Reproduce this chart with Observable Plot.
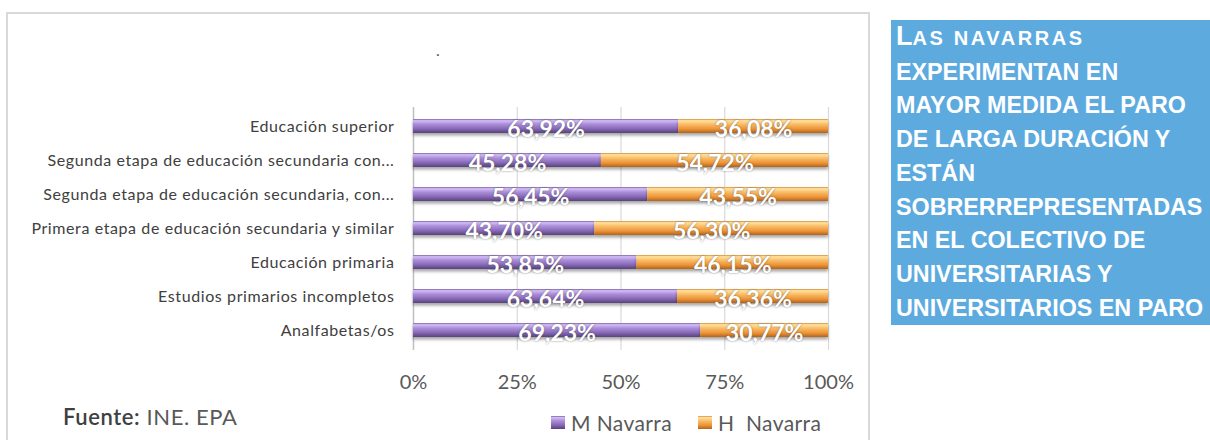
<!DOCTYPE html>
<html>
<head>
<meta charset="utf-8">
<script src="https://cdn.jsdelivr.net/npm/d3@7"></script>
<script src="https://cdn.jsdelivr.net/npm/@observablehq/plot@0.6"></script>
<style>
  html, body { margin: 0; padding: 0; }
  body { width: 1210px; height: 440px; overflow: hidden; position: relative; background: #fff; font-family: Lato, "Open Sans", sans-serif; }
  #frame { position: absolute; left: 6px; top: 12px; width: 860px; height: 440px; border: 2px solid #D9D9D9; border-bottom: none; }
  #chart { position: absolute; left: 0; top: 0; }
  #dot { position: absolute; left: 436px; top: 40px; font-size: 16px; color: #595959; }
  #fuente { position: absolute; left: 63px; top: 403px; font-size: 22px; letter-spacing: 0.6px; color: #595959; white-space: nowrap; }
  #fuente b { color: #404040; font-weight: 600; }
  #legend { position: absolute; left: 551px; top: 410px; font-size: 21px; letter-spacing: 0.4px; color: #595959; white-space: nowrap; display: flex; align-items: center; }
  .sw { display: inline-block; width: 14px; height: 13px; margin-right: 6px; }
  #blue { position: absolute; left: 891px; top: 20px; width: 319px; height: 305px; background: #5DAADF; color: #fff; font-family: "Liberation Sans", Arial, sans-serif; font-weight: bold; font-size: 23.3px; line-height: 33.7px; white-space: nowrap; padding-left: 5px; box-sizing: border-box; }
  #blue .big { font-size: 27px; }
  #blue .sm { font-size: 20px; letter-spacing: 2.6px; }
</style>
</head>
<body>
<svg width="0" height="0" style="position:absolute">
  <defs>
    <linearGradient id="gM" x1="0" y1="0" x2="0" y2="1">
      <stop offset="0" stop-color="#7A62A4"/>
      <stop offset="0.12" stop-color="#D4BEF6"/>
      <stop offset="0.35" stop-color="#AD90DC"/>
      <stop offset="0.7" stop-color="#8668B6"/>
      <stop offset="1" stop-color="#574278"/>
    </linearGradient>
    <linearGradient id="gH" x1="0" y1="0" x2="0" y2="1">
      <stop offset="0" stop-color="#D98A36"/>
      <stop offset="0.12" stop-color="#FFE3A0"/>
      <stop offset="0.38" stop-color="#F9BC66"/>
      <stop offset="0.72" stop-color="#EC9236"/>
      <stop offset="1" stop-color="#B0641E"/>
    </linearGradient>
    <filter id="sh" x="-5%" y="-50%" width="110%" height="250%">
      <feDropShadow dx="0" dy="2.5" stdDeviation="1.6" flood-color="#000" flood-opacity="0.35"/>
    </filter>
  </defs>
</svg>
<div id="frame"></div>
<div id="chart"></div>
<div id="dot">.</div>
<div id="fuente"><b>Fuente:</b> INE. EPA</div>
<div id="legend"></div>
<div id="blue">
  <span class="big">L</span><span class="sm">AS NAVARRAS</span><br>
  EXPERIMENTAN EN<br>
  MAYOR MEDIDA EL PARO<br>
  DE LARGA DURACIÓN Y<br>
  ESTÁN<br>
  SOBRERREPRESENTADAS<br>
  EN EL COLECTIVO DE<br>
  UNIVERSITARIAS Y<br>
  UNIVERSITARIOS EN PARO
</div>
<script>
// ---- data ----
const categories = [
  "Educación superior",
  "Segunda etapa de educación secundaria con...",
  "Segunda etapa de educación secundaria, con...",
  "Primera etapa de educación secundaria y similar",
  "Educación primaria",
  "Estudios primarios incompletos",
  "Analfabetas/os"
];
const seriesNames = ["M Navarra", "H  Navarra"];
const mujeres = [63.92, 45.28, 56.45, 43.70, 53.85, 63.64, 69.23];
const hombres = [36.08, 54.72, 43.55, 56.30, 46.15, 36.36, 30.77];
const xTicks = [0, 25, 50, 75, 100];

const rows = [];
categories.forEach((c, i) => {
  rows.push({cat: c, serie: seriesNames[0], v: mujeres[i]});
  rows.push({cat: c, serie: seriesNames[1], v: hombres[i]});
});
const fmt = v => v.toFixed(2).replace(".", ",") + "%";

const chart = Plot.plot({
  width: 870,
  height: 440,
  marginLeft: 413,
  marginRight: 42,
  marginTop: 107,
  marginBottom: 90,
  style: {fontFamily: "Lato, 'Open Sans', sans-serif", background: "transparent"},
  x: {domain: [0, 100]},
  y: {domain: categories, paddingInner: 0.58, paddingOuter: 0.29},
  color: {domain: seriesNames, range: ["url(#gM)", "url(#gH)"]},
  marks: [
    Plot.ruleX(xTicks.slice(1), {stroke: "#D9D9D9", strokeWidth: 1.2}),
    Plot.ruleX([0], {stroke: "#BFBFBF", strokeWidth: 1.5}),
    Plot.barX(rows, {y: "cat", x: "v", fill: "serie"}),
    Plot.text(rows, Plot.stackX({y: "cat", x: "v", text: d => fmt(d.v), fill: "white", fontSize: 23, fontWeight: "bold", dy: 3})),
    Plot.axisX({ticks: xTicks, tickFormat: d => d + "%", tickSize: 0, tickPadding: 24, fontSize: 20, fill: "#595959", label: null}),
    Plot.axisY({tickSize: 0, tickPadding: 19, fontSize: 16, fill: "#404040", label: null})
  ]
});
d3.select(chart).selectAll("g[aria-label='bar'] rect").attr("filter", "url(#sh)");
d3.select(chart).selectAll("g[aria-label='text'] text").style("text-shadow", "0 0 2px rgba(60,60,60,0.6)");
d3.select(chart).selectAll("g[aria-label='y-axis tick label'] text").style("letter-spacing", "0.6px");
document.getElementById("chart").appendChild(chart);

const legend = document.getElementById("legend");
seriesNames.forEach((s, i) => {
  const item = document.createElement("span");
  item.style.display = "inline-flex";
  item.style.alignItems = "center";
  item.style.marginRight = i === 0 ? "26px" : "0";
  item.innerHTML = `<svg class="sw" viewBox="0 0 14 13"><rect width="14" height="13" fill="${i === 0 ? 'url(#gM)' : 'url(#gH)'}"/></svg><span>${s.replace(/ /g, "&nbsp;")}</span>`;
  legend.appendChild(item);
});
</script>
</body>
</html>
